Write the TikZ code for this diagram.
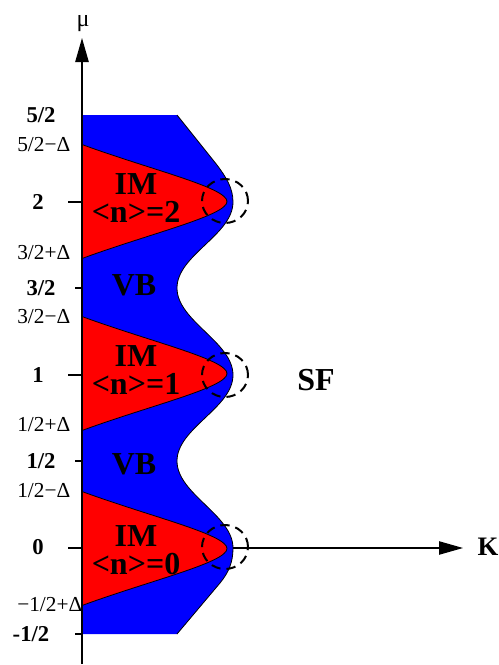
\documentclass[tikz,border=0pt]{standalone}
\usepackage{fontspec}
\setmainfont{Liberation Serif}
\usetikzlibrary{arrows.meta}
\tikzset{
  axisline/.style={line width=1.1pt, -{Triangle[length=18pt,width=10pt]}},
  lobe/.style={fill=red, draw=black, line width=0.6pt},
  bigtxt/.style={font=\fontsize{24}{21}\selectfont\bfseries, inner sep=0pt, align=center},
  boldlab/.style={font=\fontsize{17}{17}\selectfont\bfseries, inner sep=0pt},
  dlab/.style={font=\fontsize{16}{16}\selectfont, inner sep=0pt, anchor=west},
  tickmark/.style={line width=1.1pt},
  ring/.style={draw=black, line width=1.5pt, dash pattern=on 7pt off 4.5pt},
}
\begin{document}
\begin{tikzpicture}[x=0.75pt,y=-0.75pt]
\useasboundingbox (0,0) rectangle (499,665);
% horizontal axis
\coordinate (hstart) at (82,548);
\coordinate (hend) at (463,548);
\draw[axisline, line width=0.9pt] (hstart) -- (hend);
% blue region
\fill[blue] (82,115) -- (177,115) -- (217,165) .. controls (226,177) and (233,188) .. (233,202)
  .. controls (233,235) and (177,255) .. (177,288)
  .. controls (177,321) and (233,342) .. (233,375)
  .. controls (233,408) and (177,428) .. (177,461)
  .. controls (177,494) and (233,515) .. (233,548)
  .. controls (233,562) and (229,572) .. (220,583) -- (177,634) -- (82,634) -- cycle;
\draw[line width=0.6pt] (177,115) -- (217,165) .. controls (226,177) and (233,188) .. (233,202)
  .. controls (233,235) and (177,255) .. (177,288)
  .. controls (177,321) and (233,342) .. (233,375)
  .. controls (233,408) and (177,428) .. (177,461)
  .. controls (177,494) and (233,515) .. (233,548)
  .. controls (233,562) and (229,572) .. (220,583) -- (177,634);
% red lobes
\foreach \yc in {201.5,373.5,548.5}{
  \draw[lobe] (82,{\yc-57}) .. controls (150,{\yc-32}) and (227,{\yc-14}) .. (227,\yc)
    .. controls (227,{\yc+14}) and (150,{\yc+32}) .. (82,{\yc+57}) -- cycle;
}
% vertical axis
\coordinate (vstart) at (82,664);
\coordinate (vend) at (82,38);
\draw[axisline] (vstart) -- (vend);
% dashed rings
\draw[ring] (225,201) ellipse [x radius=17.25pt, y radius=16.5pt];
\draw[ring] (225,375) ellipse [x radius=17.25pt, y radius=16.5pt];
\draw[ring] (225,547) ellipse [x radius=17.25pt, y radius=16.5pt];
% ticks
\foreach \yy in {202,375,548}{ \draw[tickmark] (68,\yy) -- (82,\yy); }
\foreach \yy in {288,461,634}{ \draw[tickmark] (75,\yy) -- (82,\yy); }
% axis labels
\node[font=\fontsize{18}{18}\selectfont, inner sep=0pt] (mu) at (83,24) {μ};
\node[font=\fontsize{20}{20}\selectfont\bfseries, inner sep=0pt] (kk) at (488,547) {K};
% region labels
\node[bigtxt] (im2) at (136,198.5) {IM\\<n>=2};
\node[bigtxt, anchor=base] (vb1) at (134,295) {VB};
\node[bigtxt] (im1) at (136,370.5) {IM\\<n>=1};
\node[bigtxt, anchor=base] (vb0) at (134,474) {VB};
\node[bigtxt] (im0) at (136,550.5) {IM\\<n>=0};
\node[bigtxt, anchor=base] (sf) at (316,390) {SF};
% value labels
\node[boldlab] (l52) at (41,115) {5/2};
\node[dlab] (l52d) at (17,145) {5/2−Δ};
\node[boldlab] (l2) at (38,202) {2};
\node[dlab] (l32p) at (17,253) {3/2+Δ};
\node[boldlab] (l32) at (41,288) {3/2};
\node[dlab] (l32m) at (17,317) {3/2−Δ};
\node[boldlab] (l1) at (38,375) {1};
\node[dlab] (l12p) at (17,425) {1/2+Δ};
\node[boldlab] (l12) at (41,461) {1/2};
\node[dlab] (l12m) at (17,491) {1/2−Δ};
\node[boldlab] (l0) at (38,547) {0};
\node[dlab] (lm12p) at (17,605) {−1/2+Δ};
\node[boldlab] (lm12) at (31,634) {-1/2};
\end{tikzpicture}
\end{document}
